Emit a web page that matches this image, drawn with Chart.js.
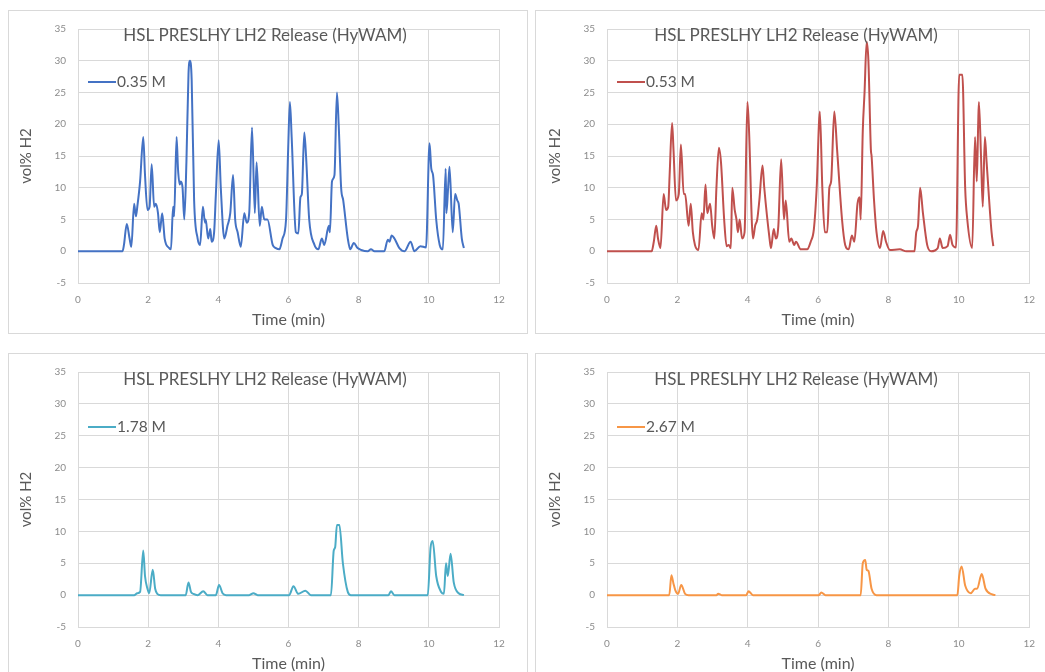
<!DOCTYPE html>
<html>
<head>
<meta charset="utf-8">
<script src="https://cdn.jsdelivr.net/npm/chart.js@4"></script>
<style>
  html, body { margin: 0; padding: 0; background: #fff; overflow: hidden; width: 1045px; height: 672px; }
  .panel { position: absolute; border: 1px solid #d9d9d9; box-sizing: border-box; overflow: hidden; background: #fff; }
  .panel canvas { position: absolute; left: 0; top: 0; }
</style>
</head>
<body>
<div class="panel" id="p1" style="left:8px; top:10px; width:520px; height:324px;"><canvas id="c1"></canvas></div>
<div class="panel" id="p2" style="left:535px; top:10px; width:520px; height:324px;"><canvas id="c2"></canvas></div>
<div class="panel" id="p3" style="left:8px; top:353px; width:520px; height:330px;"><canvas id="c3"></canvas></div>
<div class="panel" id="p4" style="left:535px; top:353px; width:520px; height:330px;"><canvas id="c4"></canvas></div>
<script>
// HSL PRESLHY LH2 release, HyWAM sensors at four distances
const chartTitle = 'HSL PRESLHY LH2 Release (HyWAM)';
const xTitle = 'Time (min)';
const yTitle = 'vol% H2';
const xTicks = [0, 2, 4, 6, 8, 10, 12];
const yTicks = [-5, 0, 5, 10, 15, 20, 25, 30, 35];

const labels = ['0.35 M', '0.53 M', '1.78 M', '2.67 M'];
const colors = ['#4472c4', '#c0504d', '#4bacc6', '#f79646'];

// 0.35 M
const time1 = [0, 1.27, 1.31, 1.39, 1.47, 1.52, 1.60, 1.65, 1.69, 1.77, 1.86, 1.91, 1.98, 2.04, 2.10, 2.17, 2.22, 2.28, 2.33, 2.40,
  2.47, 2.60, 2.65, 2.71, 2.74, 2.81, 2.85, 2.90, 2.93, 2.98, 3.03, 3.09, 3.15, 3.19, 3.24, 3.31, 3.41, 3.48, 3.56, 3.62,
  3.64, 3.71, 3.77, 3.81, 3.88, 3.93, 4.01, 4.07, 4.17, 4.26, 4.34, 4.42, 4.48, 4.55, 4.64, 4.74, 4.81, 4.88, 4.96, 5.04,
  5.09, 5.18, 5.24, 5.31, 5.40, 5.55, 5.64, 5.74, 5.83, 5.93, 5.99, 6.04, 6.09, 6.21, 6.28, 6.34, 6.38, 6.45, 6.50, 6.59,
  6.74, 6.85, 6.95, 7.02, 7.15, 7.18, 7.24, 7.31, 7.38, 7.43, 7.50, 7.56, 7.69, 7.76, 7.86, 7.97, 8.07, 8.26, 8.35, 8.45,
  8.73, 8.83, 8.88, 8.94, 9.02, 9.16, 9.31, 9.48, 9.59, 9.76, 9.92, 10.02, 10.07, 10.12, 10.21, 10.31, 10.40, 10.48, 10.50, 10.55,
  10.59, 10.68, 10.75, 10.81, 10.85, 10.94, 11.00];
const vol1 = [0, 0, 1, 4.3, 2, 0.7, 7.5, 5.5, 7, 11, 18, 12, 6.5, 7, 13.7, 7, 7.5, 6, 3, 6,
  2, 0.5, 0.3, 7, 5.5, 18, 13, 10.5, 11, 10, 5, 14, 28, 30, 27, 8, 2, 1, 7, 4.5,
  5, 2, 3.5, 1.5, 3, 9, 17.5, 10, 2, 4, 6, 12, 5, 3, 0.7, 6, 4.5, 6, 19.5, 6,
  14, 4, 7, 5, 5, 1, 0.5, 0.3, 2, 5, 16, 23.5, 18, 3, 2.8, 8.5, 9, 18.7, 15, 5,
  1, 0.3, 2, 1, 4, 3, 11, 12, 25, 20, 10, 8, 2, 0.3, 1.3, 0.5, 0.2, 0, 0.3, 0,
  0, 1.8, 1.5, 2.5, 2, 0.5, 0, 1.5, 0, 0.8, 0.6, 17, 13, 12, 5, 1, 0.3, 13, 6, 10,
  13.3, 3, 9, 8, 7.5, 2, 0.5];

// 0.53 M
const time2 = [0, 1.27, 1.33, 1.40, 1.45, 1.52, 1.61, 1.68, 1.74, 1.78, 1.85, 1.89, 1.96, 2.04, 2.10, 2.18, 2.22, 2.32, 2.38, 2.44,
  2.50, 2.60, 2.69, 2.74, 2.80, 2.85, 2.93, 2.99, 3.05, 3.11, 3.18, 3.24, 3.33, 3.40, 3.46, 3.52, 3.56, 3.63, 3.68, 3.72,
  3.77, 3.84, 3.91, 3.99, 4.03, 4.15, 4.21, 4.27, 4.33, 4.42, 4.47, 4.62, 4.66, 4.74, 4.80, 4.87, 4.95, 5.03, 5.08, 5.18,
  5.24, 5.32, 5.37, 5.51, 5.69, 5.79, 5.88, 5.96, 6.05, 6.12, 6.19, 6.26, 6.32, 6.37, 6.46, 6.54, 6.68, 6.77, 6.87, 6.96,
  7.03, 7.12, 7.18, 7.21, 7.27, 7.32, 7.38, 7.43, 7.50, 7.52, 7.59, 7.66, 7.76, 7.85, 7.93, 8.04, 8.32, 8.51, 8.74, 8.79,
  8.84, 8.90, 8.98, 9.10, 9.21, 9.40, 9.46, 9.54, 9.68, 9.75, 9.82, 9.92, 10.01, 10.10, 10.18, 10.24, 10.38, 10.46, 10.51, 10.55,
  10.57, 10.63, 10.68, 10.74, 10.79, 10.93, 10.98];
const vol2 = [0, 0, 1.5, 4, 2, 0.5, 9, 6.5, 7, 12, 20.2, 16, 8, 9, 16.8, 9, 9, 4, 7.5, 3,
  1, 0.2, 6, 5, 10.5, 6, 7.5, 4, 2, 10, 16.3, 14, 5, 0.8, 1, 0.5, 10, 6.5, 5, 3,
  5, 2, 3, 23.5, 20, 2, 4, 5, 8, 13.5, 10, 2, 0.5, 3.5, 2, 4, 14.5, 5, 8, 1.5,
  2, 1, 1.5, 0.3, 0.3, 1.5, 3.5, 10, 22, 10, 3, 3, 10, 11, 22, 16, 5, 1, 0.3, 2.5,
  1.5, 7.5, 8.5, 5, 19, 25, 33, 30, 16, 15, 8, 3, 0.5, 3.2, 1.5, 0.2, 0.3, 0, 0, 3,
  4, 10, 6, 1, 0, 0.5, 2, 0.5, 0.8, 2.6, 1, 0.6, 27.8, 27.8, 10, 5, 0.5, 18, 11, 20,
  23.5, 15, 7, 18, 14, 3, 0.8];

// 1.78 M
const time3 = [0, 1.60, 1.69, 1.77, 1.86, 1.91, 1.98, 2.03, 2.13, 2.20, 2.26, 2.36, 3.07, 3.15, 3.22, 3.29, 3.41, 3.57, 3.69, 3.93,
  4.02, 4.12, 4.22, 4.88, 5.00, 5.12, 6.02, 6.14, 6.28, 6.48, 6.64, 7.21, 7.29, 7.33, 7.38, 7.45, 7.55, 7.69, 7.78, 8.85,
  8.92, 9.02, 9.97, 10.05, 10.11, 10.21, 10.35, 10.43, 10.49, 10.54, 10.62, 10.71, 10.85, 11.00];
const vol3 = [0, 0, 0.3, 0.5, 7, 3, 1, 0.3, 4, 1, 0.2, 0, 0, 2, 0.5, 0.2, 0, 0.6, 0, 0,
  1.6, 0.3, 0, 0, 0.3, 0, 0, 1.4, 0.2, 0.7, 0, 0, 7, 7.5, 11, 11, 5, 0.5, 0, 0,
  0.6, 0, 0, 7.5, 8.5, 3, 0.5, 0.2, 5, 3, 6.5, 2, 0.3, 0];

// 2.67 M
const time4 = [0, 1.77, 1.83, 1.89, 1.94, 2.02, 2.11, 2.22, 2.32, 3.11, 3.16, 3.26, 3.96, 4.02, 4.15, 6.02, 6.09, 6.21, 7.21, 7.27,
  7.34, 7.38, 7.43, 7.52, 7.66, 9.96, 10.01, 10.08, 10.18, 10.34, 10.46, 10.52, 10.65, 10.76, 10.95, 11.04];
const vol4 = [0, 0, 3.1, 1.8, 0.8, 0.2, 1.6, 0.2, 0, 0, 0.2, 0, 0, 0.6, 0, 0, 0.4, 0, 0, 5,
  5.5, 4, 3.8, 1, 0, 0, 3, 4.5, 1.5, 0.3, 1, 1, 3.3, 1, 0.1, 0];

const FONT = 'Lato, "Open Sans", sans-serif';
const GRID = '#d9d9d9';

// draws the chart title and the one-line legend inside the plot
const overlayText = {
  id: 'overlayText',
  afterDraw(chart, args, opts) {
    const c = chart.ctx;
    c.save();
    c.fillStyle = '#595959';
    c.font = '17px ' + FONT;
    c.textAlign = 'center';
    c.textBaseline = 'middle';
    c.fillText(chartTitle, opts.titleX, opts.titleY);
    c.strokeStyle = opts.color;
    c.lineWidth = 2;
    c.beginPath();
    c.moveTo(opts.legX, opts.legY);
    c.lineTo(opts.legX + 28, opts.legY);
    c.stroke();
    c.font = '15.5px ' + FONT;
    c.textAlign = 'left';
    c.fillText(opts.label, opts.legX + 29, opts.legY);
    c.restore();
  }
};

function makeChart(id, w, h, times, vols, idx, pad, titleX, titleY, legY) {
  const canvas = document.getElementById(id);
  canvas.width = w;
  canvas.height = h;
  canvas.style.width = w + 'px';
  canvas.style.height = h + 'px';
  new Chart(canvas, {
    type: 'line',
    data: {
      datasets: [{
        label: labels[idx],
        data: times.map((t, i) => ({ x: t, y: vols[i] })),
        borderColor: colors[idx],
        borderWidth: 2,
        pointRadius: 0,
        cubicInterpolationMode: 'monotone',
        fill: false
      }]
    },
    options: {
      responsive: false,
      animation: false,
      layout: { padding: pad },
      plugins: {
        legend: { display: false },
        tooltip: { enabled: false },
        overlayText: { titleX: titleX, titleY: titleY, legX: pad.left + 75, legY: legY, color: colors[idx], label: labels[idx] }
      },
      scales: {
        x: {
          type: 'linear',
          min: 0, max: 12,
          afterBuildTicks: s => { s.ticks = xTicks.map(v => ({ value: v })); },
          afterFit: s => { s.height = 50; },
          grid: { color: GRID, drawTicks: false },
          border: { color: GRID },
          ticks: { color: '#8c8c8c', font: { family: FONT, size: 10 }, padding: 11 },
          title: { display: true, text: xTitle, color: '#595959', font: { family: FONT, size: 16 }, padding: { top: 4, bottom: 4 } }
        },
        y: {
          min: -5, max: 35,
          afterBuildTicks: s => { s.ticks = yTicks.map(v => ({ value: v })); },
          afterFit: s => { s.width = 65; },
          grid: { color: GRID, drawTicks: false },
          border: { color: GRID },
          ticks: { color: '#8c8c8c', font: { family: FONT, size: 10 }, padding: 12 },
          title: { display: true, text: yTitle, color: '#595959', font: { family: FONT, size: 15 }, padding: { top: 4, bottom: 3 } }
        }
      }
    },
    plugins: [overlayText]
  });
}

makeChart('c1', 520, 324, time1, vol1, 0, { left: 4, right: 30, top: 16, bottom: 2 }, 256, 25, 71);
makeChart('c2', 510, 324, time2, vol2, 1, { left: 6, right: 13, top: 16, bottom: 2 }, 260, 25, 71);
makeChart('c3', 520, 330, time3, vol3, 2, { left: 4, right: 30, top: 18, bottom: 7 }, 256, 26, 73);
makeChart('c4', 510, 330, time4, vol4, 3, { left: 6, right: 13, top: 18, bottom: 7 }, 260, 26, 73);
</script>
</body>
</html>
